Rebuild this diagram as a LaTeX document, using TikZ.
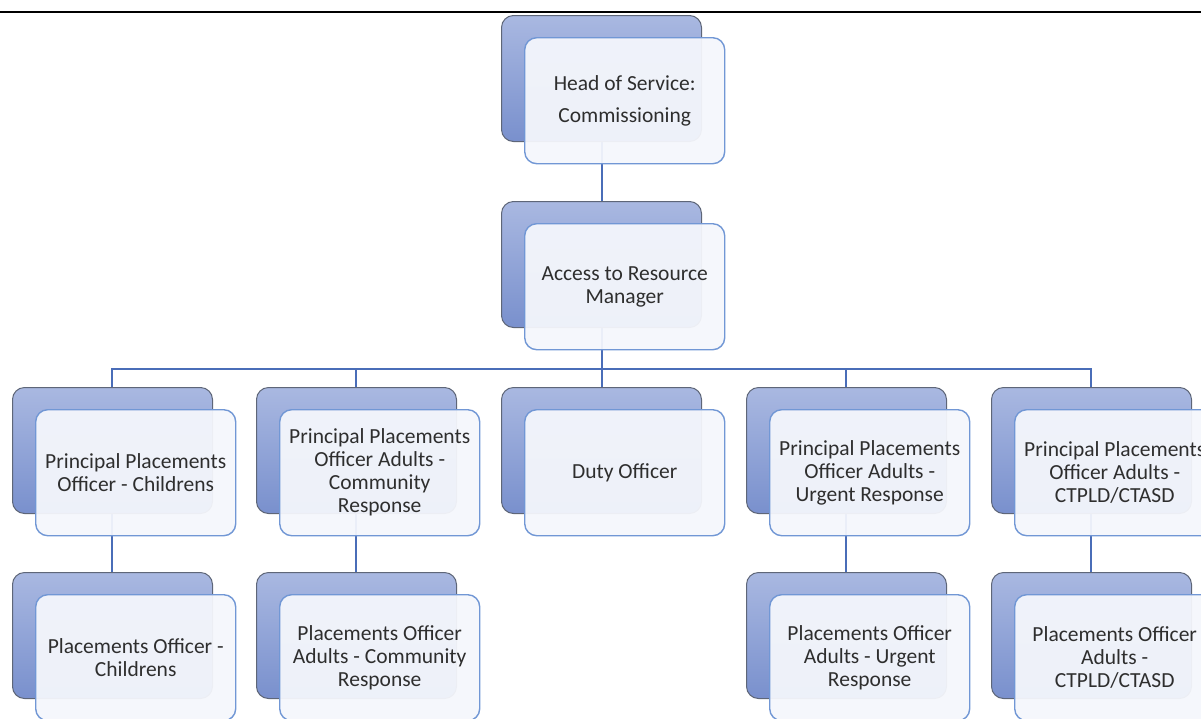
\documentclass[tikz,border=0pt]{standalone}
\usepackage{fontspec}
\setmainfont{Carlito}
\definecolor{backtop}{HTML}{A9B8E1}
\definecolor{backbot}{HTML}{7990CD}
\definecolor{backedge}{HTML}{5E6678}
\definecolor{frontfill}{HTML}{F5F7FC}
\definecolor{frontedge}{HTML}{7197D5}
\definecolor{linkblue}{HTML}{4A6DB8}
\definecolor{txt}{HTML}{2E2E2E}
\tikzset{
  backbox/.style={draw=backedge, line width=1pt, rounded corners=12pt,
    top color=backtop, bottom color=backbot,
    minimum width=200pt, minimum height=126pt, anchor=north west, inner sep=0pt},
  frontbox/.style={draw=frontedge, line width=1.4pt, rounded corners=12pt,
    fill=frontfill, fill opacity=0.94, text opacity=1, text=txt,
    minimum width=200pt, minimum height=126pt, anchor=north west,
    align=center, inner sep=0pt, font=\fontsize{21.5}{23}\selectfont},
  link/.style={draw=linkblue, line width=2pt}
}
% one unit: shaded card behind, light card in front
\newcommand{\orgunit}[4]{%
  \node[backbox] (#1B) at (#2,-#3) {};
  \node[frontbox] (#1F) at (#2+23,-#3-22) {#4};
}
\begin{document}
\begin{tikzpicture}[x=1pt,y=1pt]
\useasboundingbox (0,0) rectangle (1201,-718);
\clip (0,0) rectangle (1201,-718);
\fill[white] (0,0) rectangle (1201,-718);
\draw[black, line width=2.2pt] (0,-12) -- (1201,-12);

% connector anchors (placed before the cards, so the cards sit on top)
\coordinate (bus) at (601.5,-369);
\coordinate (c1) at (111.5,-450);
\coordinate (c2) at (356,-450);
\coordinate (c3) at (601.5,-450);
\coordinate (c4) at (846,-450);
\coordinate (c5) at (1091,-450);
\coordinate (t1) at (601.5,-78);
\coordinate (t2) at (601.5,-264);
\coordinate (d1) at (111.5,-635);
\coordinate (d2) at (356,-635);
\coordinate (d4) at (846,-635);
\coordinate (d5) at (1091,-635);

\draw[link] (t1) -- (t2);
\draw[link] (t2) -- (bus);
\draw[link] (bus) -| (c1);
\draw[link] (bus) -| (c2);
\draw[link] (bus) -- (c3);
\draw[link] (bus) -| (c4);
\draw[link] (bus) -| (c5);
\draw[link] (c1) -- (d1);
\draw[link] (c2) -- (d2);
\draw[link] (c4) -- (d4);
\draw[link] (c5) -- (d5);

\orgunit{head}{501}{15}{Head of Service:\\[9pt]Commissioning}
\orgunit{arm}{501}{201}{Access to Resource\\Manager}

\orgunit{ppc}{12}{387}{Principal Placements\\Officer - Childrens}
\orgunit{ppcr}{256}{387}{Principal Placements\\Officer Adults -\\Community\\Response}
\orgunit{duty}{501}{387}{Duty Officer}
\orgunit{ppur}{746}{387}{Principal Placements\\Officer Adults -\\Urgent Response}
\orgunit{ppct}{991}{387}{Principal Placements\\Officer Adults -\\CTPLD/CTASD}

\orgunit{poc}{12}{572}{Placements Officer -\\Childrens}
\orgunit{pocr}{256}{572}{Placements Officer\\Adults - Community\\Response}
\orgunit{pour}{746}{572}{Placements Officer\\Adults - Urgent\\Response}
\orgunit{poct}{991}{572}{Placements Officer\\Adults -\\CTPLD/CTASD}
\end{tikzpicture}
\end{document}
